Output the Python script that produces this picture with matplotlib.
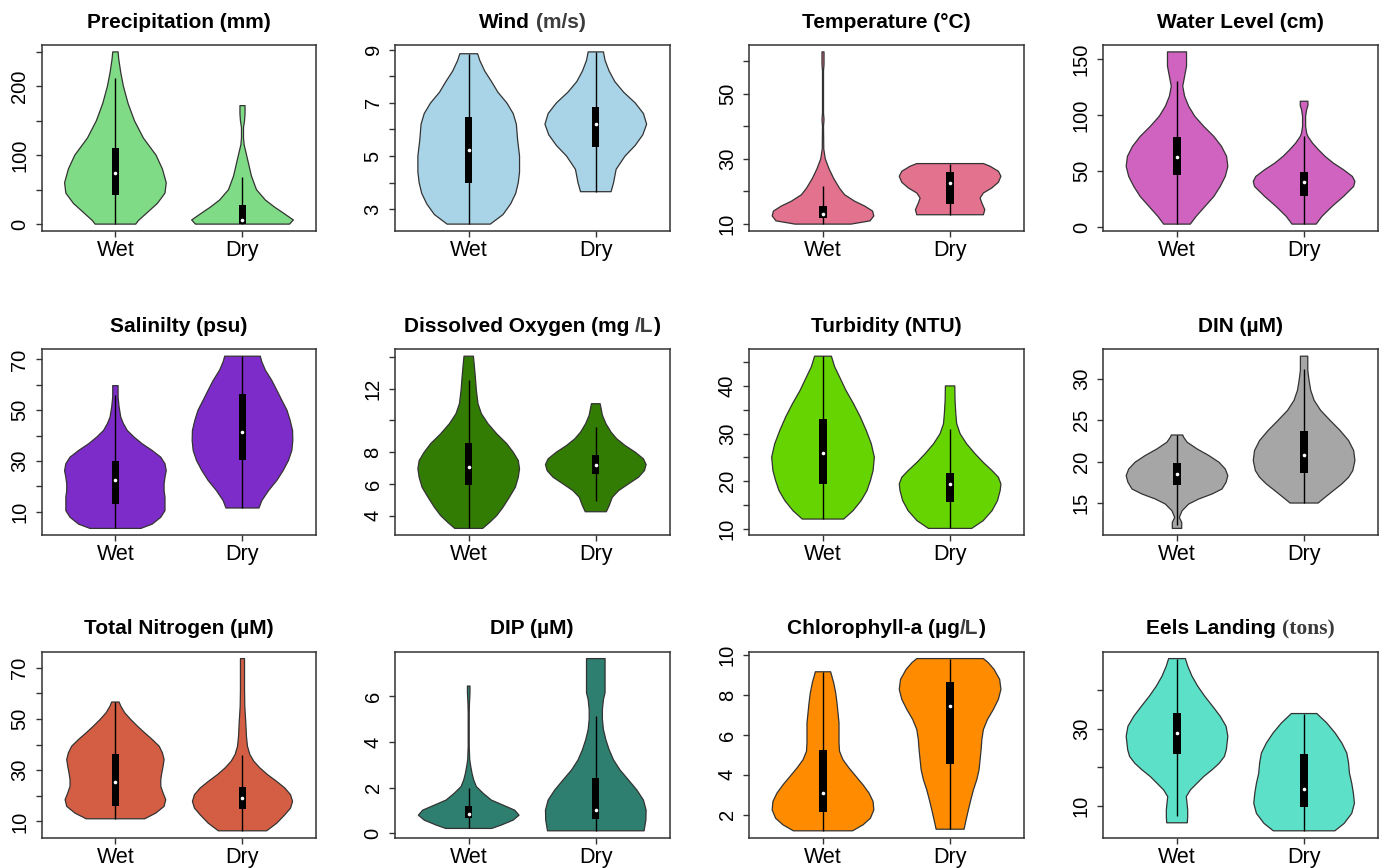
import numpy as np
import matplotlib
matplotlib.use("Agg")
import matplotlib.pyplot as plt
from matplotlib.patches import Polygon, Rectangle
from matplotlib.transforms import IdentityTransform

# ---------------------------------------------------------------------------
# Data: each violin outline is a list of (value, half-width) pairs,
# each box is [whisker low, Q1, median, Q3, whisker high].
# ---------------------------------------------------------------------------
CATEGORIES = ["Wet", "Dry"]

PRECIP_WET = [(0, 0.16), (5, 0.18), (15, 0.24), (30, 0.33), (45, 0.39), (60, 0.40),
              (80, 0.37), (100, 0.32), (125, 0.22), (150, 0.15), (175, 0.10),
              (200, 0.063), (220, 0.042), (240, 0.026), (250, 0.021)]
PRECIP_WET_BOX = [0, 42.6, 73.6, 110, 212]
PRECIP_DRY = [(0, 0.37), (6, 0.40), (15, 0.33), (25, 0.25), (35, 0.18), (50, 0.11),
              (70, 0.07), (90, 0.045), (105, 0.026), (115, 0.013), (125, 0.008),
              (140, 0.008), (150, 0.016), (160, 0.02), (172, 0.02)]
PRECIP_DRY_BOX = [0, 0, 6.3, 28, 69]

WIND_WET = [(2.44, 0.17), (2.8, 0.27), (3.2, 0.33), (3.6, 0.37), (4.0, 0.39), (4.4, 0.40),
            (5.0, 0.40), (5.6, 0.385), (6.2, 0.375), (6.6, 0.35), (7.0, 0.30), (7.4, 0.23),
            (7.8, 0.18), (8.2, 0.126), (8.6, 0.087), (8.85, 0.07)]
WIND_WET_BOX = [2.44, 4.0, 5.23, 6.46, 8.85]
WIND_DRY = [(3.66, 0.12), (4.0, 0.14), (4.5, 0.16), (5.0, 0.23), (5.4, 0.31), (5.8, 0.37),
            (6.2, 0.40), (6.6, 0.375), (7.0, 0.31), (7.4, 0.22), (7.8, 0.15), (8.2, 0.105),
            (8.6, 0.073), (8.92, 0.06)]
WIND_DRY_BOX = [3.66, 5.36, 6.2, 6.84, 8.92]

TEMP_WET = [(10, 0.22), (11, 0.37), (12.5, 0.40), (14, 0.39), (15.5, 0.33), (17, 0.25),
            (19, 0.17), (21, 0.13), (24, 0.084), (27, 0.047), (30, 0.018), (33, 0.006),
            (40, 0.004), (42, 0.008), (44, 0.004), (57, 0.004), (59, 0.008), (62.8, 0.008)]
TEMP_WET_BOX = [10, 11.85, 13.1, 15.4, 21.6]
TEMP_DRY = [(12.87, 0.262), (14.41, 0.273), (16.46, 0.25), (18.0, 0.236), (19.54, 0.262),
            (21.08, 0.328), (22.82, 0.38), (24.67, 0.40), (26.2, 0.38), (27.74, 0.315),
            (28.56, 0.262)]
TEMP_DRY_BOX = [12.87, 16.26, 22.7, 25.9, 28.56]

WATER_WET = [(3, 0.105), (9.8, 0.15), (18.7, 0.22), (27.6, 0.29), (36.5, 0.34), (45.4, 0.38),
             (54.4, 0.40), (63.3, 0.39), (72.2, 0.35), (81, 0.29), (90, 0.21), (98.9, 0.14),
             (107.8, 0.092), (116.7, 0.06), (125.6, 0.045), (134.5, 0.06), (143.5, 0.075),
             (156.2, 0.075)]
WATER_WET_BOX = [3, 46.9, 62.7, 80.5, 130]
WATER_DRY = [(3, 0.095), (9.8, 0.14), (18.7, 0.22), (27.6, 0.31), (36.5, 0.39), (41, 0.40),
             (45.4, 0.38), (51.4, 0.31), (57.3, 0.23), (63.3, 0.165), (69.2, 0.113),
             (75.1, 0.066), (81, 0.03), (84, 0.02), (90, 0.012), (98.9, 0.012),
             (104.8, 0.02), (108.4, 0.03), (112.3, 0.03)]
WATER_DRY_BOX = [3, 27.6, 40.1, 49, 81]

SAL_WET = [(3.4, 0.20), (5.1, 0.29), (7.8, 0.357), (10.4, 0.39), (13, 0.39), (15.7, 0.39),
           (18.3, 0.383), (20.9, 0.383), (23.6, 0.39), (26.2, 0.40), (28.9, 0.39),
           (31.5, 0.357), (34.1, 0.29), (36.8, 0.21), (39.4, 0.147), (42, 0.094),
           (44.7, 0.063), (47.3, 0.042), (51.3, 0.029), (55.2, 0.021), (59.7, 0.021)]
SAL_WET_BOX = [3.4, 13, 22.5, 29.8, 55.9]
SAL_DRY = [(11.45, 0.13), (14.35, 0.152), (18.3, 0.205), (22.3, 0.27), (26.2, 0.32),
           (30.2, 0.362), (34.1, 0.388), (38.1, 0.396), (42, 0.394), (46, 0.375), (50, 0.35),
           (53.9, 0.31), (57.9, 0.27), (61.8, 0.23), (65.8, 0.18), (69.1, 0.152), (71.3, 0.14)]
SAL_DRY_BOX = [11.45, 30.4, 41.4, 56.2, 71.3]

DO_WET = [(3.2, 0.11), (3.58, 0.165), (4.0, 0.22), (4.53, 0.27), (5.16, 0.32), (5.79, 0.367),
          (6.42, 0.39), (6.95, 0.40), (7.47, 0.39), (8.0, 0.35), (8.53, 0.30), (9.16, 0.22),
          (9.79, 0.152), (10.42, 0.10), (11.05, 0.073), (11.9, 0.06), (12.74, 0.052),
          (13.37, 0.045), (14.04, 0.037)]
DO_WET_BOX = [3.2, 5.94, 7.09, 8.57, 12.53]
DO_DRY = [(4.25, 0.083), (4.63, 0.105), (5.16, 0.13), (5.58, 0.18), (6.0, 0.257),
          (6.42, 0.336), (6.84, 0.383), (7.22, 0.396), (7.58, 0.375), (8.0, 0.31),
          (8.42, 0.23), (8.84, 0.165), (9.26, 0.12), (9.79, 0.08), (10.32, 0.052),
          (10.74, 0.042), (11.05, 0.034)]
DO_DRY_BOX = [4.9, 6.63, 7.22, 7.83, 9.58]

TURB_WET = [(12.1, 0.163), (13.85, 0.236), (15.96, 0.30), (18.06, 0.346), (20.16, 0.373),
            (22.26, 0.394), (25.07, 0.404), (27.87, 0.38), (30.67, 0.34), (33.48, 0.294),
            (36.28, 0.24), (39.08, 0.18), (41.89, 0.13), (43.99, 0.092), (46.23, 0.066)]
TURB_WET_BOX = [12.1, 19.46, 26.0, 33.1, 46.23]
TURB_DRY = [(10.14, 0.17), (11.75, 0.26), (13.85, 0.33), (15.96, 0.373), (18.06, 0.394),
            (19.46, 0.40), (20.86, 0.38), (22.26, 0.33), (24.0, 0.26), (25.77, 0.197),
            (27.87, 0.13), (29.97, 0.079), (32.07, 0.052), (34.18, 0.045), (36.98, 0.039),
            (40.0, 0.037)]
TURB_DRY_BOX = [10.14, 15.6, 19.46, 21.7, 31.0]

DIN_WET = [(11.94, 0.037), (12.66, 0.037), (13.27, 0.018), (14.07, 0.04), (14.88, 0.092),
           (15.48, 0.17), (16.09, 0.276), (16.69, 0.354), (17.5, 0.386), (18.3, 0.40),
           (19.1, 0.38), (19.92, 0.33), (20.73, 0.25), (21.53, 0.157), (22.34, 0.079),
           (22.94, 0.052), (23.2, 0.045)]
DIN_WET_BOX = [12.3, 17.18, 18.55, 19.8, 23.2]
DIN_DRY = [(15, 0.11), (15.69, 0.165), (16.49, 0.23), (17.3, 0.297), (18.1, 0.35),
           (18.9, 0.383), (20.12, 0.40), (21.33, 0.39), (22.54, 0.35), (23.75, 0.283),
           (24.96, 0.205), (26.17, 0.13), (27.38, 0.079), (28.59, 0.052), (29.8, 0.039),
           (31.0, 0.029), (32.7, 0.029)]
DIN_DRY_BOX = [15, 18.59, 20.73, 23.63, 31.2]

TN_WET = [(11.04, 0.23), (13.26, 0.318), (15.87, 0.383), (18.48, 0.396), (21.09, 0.375),
          (23.7, 0.357), (26.3, 0.357), (28.9, 0.365), (31.5, 0.375), (34.13, 0.383),
          (36.74, 0.37), (39.35, 0.344), (41.96, 0.29), (44.56, 0.23), (47.17, 0.173),
          (49.78, 0.12), (52.4, 0.073), (55, 0.042), (56.56, 0.029)]
TN_WET_BOX = [11.04, 16.13, 25.26, 36.48, 56.56]
TN_DRY = [(6.35, 0.19), (9.35, 0.27), (12.6, 0.333), (15.2, 0.378), (17.83, 0.394),
          (20.43, 0.378), (23.04, 0.333), (25.65, 0.268), (28.26, 0.197), (30.87, 0.137),
          (33.48, 0.089), (36.09, 0.058), (39.35, 0.039), (43.26, 0.031), (48.48, 0.026),
          (55, 0.018), (61.5, 0.016), (73.5, 0.016)]
TN_DRY_BOX = [6.35, 14.83, 19.13, 23.43, 36.1]

DIP_WET = [(0.22, 0.18), (0.37, 0.257), (0.585, 0.35), (0.80, 0.396), (1.02, 0.362),
           (1.24, 0.27), (1.46, 0.178), (1.76, 0.113), (2.05, 0.06), (2.34, 0.039),
           (2.63, 0.026), (2.93, 0.016), (3.22, 0.008), (3.8, 0.004), (5.27, 0.004),
           (5.7, 0.006), (6.15, 0.01), (6.44, 0.01)]
DIP_WET_BOX = [0.22, 0.69, 0.83, 1.21, 2.0]
DIP_DRY = [(0.117, 0.38), (0.585, 0.394), (1.02, 0.396), (1.46, 0.375), (1.9, 0.323),
           (2.34, 0.257), (2.78, 0.19), (3.22, 0.139), (3.66, 0.105), (4.1, 0.079),
           (4.54, 0.06), (4.98, 0.052), (5.41, 0.052), (5.85, 0.06), (6.15, 0.073),
           (6.44, 0.073), (7.02, 0.073), (7.64, 0.073)]
DIP_DRY_BOX = [0.117, 0.63, 1.02, 2.44, 5.15]

CHL_WET = [(1.2, 0.233), (1.5, 0.315), (1.83, 0.373), (2.25, 0.40), (2.67, 0.394),
           (3.09, 0.362), (3.5, 0.315), (3.92, 0.26), (4.34, 0.205), (4.76, 0.157),
           (5.18, 0.13), (5.6, 0.126), (6.1, 0.126), (6.6, 0.126), (7.1, 0.118), (7.6, 0.11),
           (8.1, 0.10), (8.61, 0.084), (9.16, 0.06)]
CHL_WET_BOX = [1.2, 2.12, 3.09, 5.26, 9.16]
CHL_DRY = [(1.28, 0.11), (1.75, 0.126), (2.25, 0.144), (2.75, 0.163), (3.26, 0.184),
           (3.76, 0.21), (4.26, 0.228), (4.76, 0.236), (5.26, 0.244), (5.77, 0.25),
           (6.27, 0.262), (6.77, 0.294), (7.27, 0.34), (7.78, 0.38), (8.28, 0.40),
           (8.78, 0.39), (9.28, 0.346), (9.62, 0.30), (9.82, 0.262)]
CHL_DRY_BOX = [1.28, 4.54, 7.47, 8.64, 9.82]

EELS_WET = [(5.65, 0.081), (7.2, 0.084), (8.96, 0.084), (10.7, 0.079), (12.43, 0.073),
            (14.17, 0.105), (15.9, 0.157), (17.65, 0.21), (19.4, 0.276), (21.13, 0.333),
            (22.87, 0.373), (24.6, 0.388), (28.1, 0.40), (30.7, 0.386), (33.3, 0.34),
            (35.9, 0.28), (38.5, 0.218), (41.1, 0.163), (43.7, 0.118), (46.35, 0.084),
            (48.26, 0.066)]
EELS_WET_BOX = [7.4, 23.48, 28.96, 34.17, 48.26]
EELS_DRY = [(3.57, 0.242), (5.48, 0.315), (8.09, 0.375), (10.7, 0.396), (13.3, 0.388),
            (15.9, 0.375), (18.5, 0.357), (21.13, 0.35), (23.74, 0.336), (26.35, 0.297),
            (28.96, 0.244), (31.57, 0.178), (34.0, 0.10)]
EELS_DRY_BOX = [3.57, 9.65, 14.35, 23.57, 34.0]

TITLES = ["Precipitation (mm)", "Wind (m/s)", "Temperature (°C)", "Water Level (cm)",
          "Salinilty (psu)", "Dissolved Oxygen (mg /L)", "Turbidity (NTU)", "DIN (µM)",
          "Total Nitrogen (µM)", "DIP (µM)", "Chlorophyll-a (µg/L)", "Eels Landing (tons)"]
TITLE_ACCENTS = {1: ("(m/s)", "gray"), 5: ("/L", "gray"), 10: ("/L", "gray"),
                 11: ("(tons)", "serif")}

COLORS = ["#80DB87", "#A9D4E8", "#E2728D", "#D062C0",
          "#7E2CC9", "#337C04", "#66D400", "#A6A6A6",
          "#D45E44", "#2E7F6F", "#FF8C00", "#5CE0C8"]

Y_TICKS = [[0, 50, 100, 150, 200, 250], [3, 4, 5, 6, 7, 8, 9],
           [10, 20, 30, 40, 50, 60], [0, 50, 100, 150],
           [10, 20, 30, 40, 50, 60, 70], [4, 6, 8, 10, 12, 14],
           [10, 15, 20, 25, 30, 35, 40, 45], [15, 20, 25, 30],
           [10, 20, 30, 40, 50, 60, 70], [0, 2, 4, 6],
           [2, 4, 6, 8, 10], [10, 20, 30, 40]]
Y_TICK_LABELS = [["0", "", "100", "", "200", ""], ["3", "", "5", "", "7", "", "9"],
                 ["10", "", "30", "", "50", ""], ["0", "50", "100", "150"],
                 ["10", "", "30", "", "50", "", "70"], ["4", "6", "8", "", "12", ""],
                 ["10", "", "20", "", "30", "", "40", ""], ["15", "20", "25", "30"],
                 ["10", "", "30", "", "50", "", "70"], ["0", "2", "4", "6"],
                 ["2", "4", "6", "8", "10"], ["10", "", "30", ""]]

VIOLINS = [
    (PRECIP_WET, PRECIP_WET_BOX, PRECIP_DRY, PRECIP_DRY_BOX),
    (WIND_WET, WIND_WET_BOX, WIND_DRY, WIND_DRY_BOX),
    (TEMP_WET, TEMP_WET_BOX, TEMP_DRY, TEMP_DRY_BOX),
    (WATER_WET, WATER_WET_BOX, WATER_DRY, WATER_DRY_BOX),
    (SAL_WET, SAL_WET_BOX, SAL_DRY, SAL_DRY_BOX),
    (DO_WET, DO_WET_BOX, DO_DRY, DO_DRY_BOX),
    (TURB_WET, TURB_WET_BOX, TURB_DRY, TURB_DRY_BOX),
    (DIN_WET, DIN_WET_BOX, DIN_DRY, DIN_DRY_BOX),
    (TN_WET, TN_WET_BOX, TN_DRY, TN_DRY_BOX),
    (DIP_WET, DIP_WET_BOX, DIP_DRY, DIP_DRY_BOX),
    (CHL_WET, CHL_WET_BOX, CHL_DRY, CHL_DRY_BOX),
    (EELS_WET, EELS_WET_BOX, EELS_DRY, EELS_DRY_BOX),
]

# ---------------------------------------------------------------------------
# Layout (pixels)
# ---------------------------------------------------------------------------
FIG_W, FIG_H = 1385, 868
COL_LEFT = [41.7, 395.0, 749.3, 1103.3]
COL_WIDTH = 274.5
ROW_TOP = [45.0, 349.3, 651.7]
ROW_HEIGHT = 186.0
TITLE_GAP = 17.5
BOX_HALF = 0.029
EDGE = "#333333"

plt.rcParams["font.family"] = ["Liberation Sans", "DejaVu Sans"]
fig = plt.figure(figsize=(FIG_W / 100, FIG_H / 100), dpi=100)
fig.patch.set_facecolor("white")


def draw_violin(ax, xc, outline, box, color):
    ys = np.array([p[0] for p in outline], dtype=float)
    ws = np.array([p[1] for p in outline], dtype=float)
    xs = np.concatenate([xc - ws, (xc + ws)[::-1]])
    yy = np.concatenate([ys, ys[::-1]])
    ax.add_patch(Polygon(np.column_stack([xs, yy]), closed=True, facecolor=color,
                         edgecolor=EDGE, lw=0.9, joinstyle="round", zorder=2))
    lo, q1, med, q3, hi = box
    ax.plot([xc, xc], [lo, hi], color="black", lw=1.0, zorder=3, solid_capstyle="butt")
    ax.add_patch(Rectangle((xc - BOX_HALF, q1), 2 * BOX_HALF, q3 - q1,
                           facecolor="black", edgecolor="none", zorder=4))
    ax.plot([xc], [med], "o", color="white", ms=2.6, mec="none", zorder=5)


def draw_title(ax, idx):
    text = TITLES[idx]
    renderer = fig.canvas.get_renderer()
    base = dict(fontsize=15, fontweight="bold", color="black",
                family=["Liberation Sans", "DejaVu Sans"])
    styles = {
        "gray": dict(fontsize=15, fontweight="bold", color="#3d3d3d",
                     family=["Liberation Sans", "DejaVu Sans"]),
        "serif": dict(fontsize=15.5, fontweight="bold", color="#3a3a3a",
                      family=["Liberation Serif", "DejaVu Serif"]),
    }
    if idx in TITLE_ACCENTS:
        sub, st = TITLE_ACCENTS[idx]
        i = text.index(sub)
        parts = [(text[:i], base), (sub, styles[st]), (text[i + len(sub):], base)]
    else:
        parts = [(text, base)]

    probe_a = fig.text(0, 0, "ab", **base)
    probe_b = fig.text(0, 0, "a b", **base)
    space_w = (probe_b.get_window_extent(renderer).width
               - probe_a.get_window_extent(renderer).width)
    probe_a.remove()
    probe_b.remove()

    items = []  # [space before, text object, space after]
    for s, kw in parts:
        if not s:
            continue
        lead = len(s) - len(s.lstrip(" "))
        trail = len(s) - len(s.rstrip(" "))
        t = fig.text(0, 0, s.strip(" "), transform=IdentityTransform(),
                     ha="left", va="baseline", **kw)
        items.append([lead * space_w, t, trail * space_w])
    widths = [it[1].get_window_extent(renderer).width for it in items]
    total = sum(widths) + sum(it[0] + it[2] for it in items)
    bb = ax.get_window_extent(renderer)
    x = (bb.x0 + bb.x1) / 2 - total / 2
    y = bb.y1 + TITLE_GAP
    for (lead, t, trail), w in zip(items, widths):
        x += lead
        t.set_position((x, y))
        x += w + trail


for idx, (wet, wet_box, dry, dry_box) in enumerate(VIOLINS):
    r, c = divmod(idx, 4)
    left = COL_LEFT[c] / FIG_W
    bottom = 1 - (ROW_TOP[r] + ROW_HEIGHT) / FIG_H
    ax = fig.add_axes([left, bottom, COL_WIDTH / FIG_W, ROW_HEIGHT / FIG_H])

    for xc, outline, box in ((1, wet, wet_box), (2, dry, dry_box)):
        draw_violin(ax, xc, outline, box, COLORS[idx])

    all_y = [p[0] for p in wet] + [p[0] for p in dry]
    lo, hi = min(all_y), max(all_y)
    pad = 0.04 * (hi - lo)
    ax.set_ylim(lo - pad, hi + pad)
    ax.set_xlim(0.42, 2.58)

    ax.set_xticks([1, 2])
    ax.set_xticklabels(CATEGORIES)
    ax.set_yticks(Y_TICKS[idx])
    ax.set_yticklabels(Y_TICK_LABELS[idx], rotation=90, va="center")

    ax.tick_params(axis="both", direction="out", length=4.5, width=1.0, color=EDGE,
                   labelcolor="black")
    ax.tick_params(axis="y", pad=4.5, labelsize=14.5)
    ax.tick_params(axis="x", pad=2.0, labelsize=15.5)
    for sp in ax.spines.values():
        sp.set_color(EDGE)
        sp.set_linewidth(1.1)

fig.canvas.draw()
for idx, ax in enumerate(fig.axes):
    draw_title(ax, idx)

fig.savefig("out.png", dpi=100, facecolor="white")
